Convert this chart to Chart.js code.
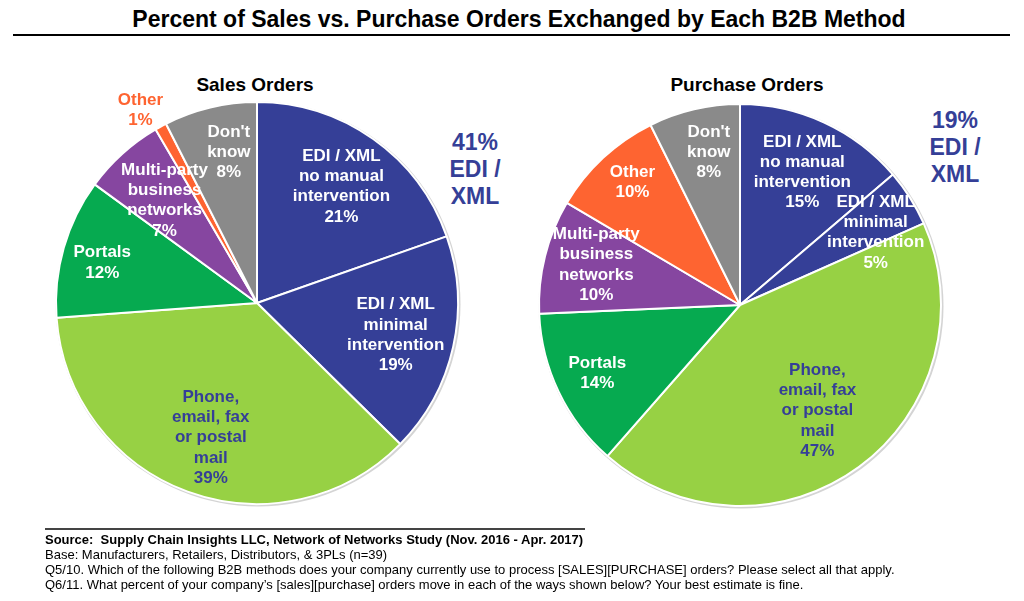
<!DOCTYPE html>
<html>
<head>
<meta charset="utf-8">
<script src="https://cdn.jsdelivr.net/npm/chart.js@4/dist/chart.umd.min.js"></script>
<style>
  body { margin: 0; background: #fff; font-family: Arial, "Liberation Sans", sans-serif; }
  #page { position: relative; width: 1024px; height: 601px; overflow: hidden; }
  .abs { position: absolute; }
  #mainTitle { left: 0; width: 1038px; top: 6px; text-align: center; font-weight: bold; font-size: 23px; color: #000; }
  #topRule { left: 13px; width: 997px; top: 34px; height: 2px; background: #000; }
  .subTitle { font-weight: bold; font-size: 19px; color: #000; text-align: center; width: 300px; }
  .note { font-weight: bold; font-size: 23px; color: #353f97; text-align: center; width: 100px; line-height: 27px; }
  .box { width: 464px; height: 464px; }
  #footRule { left: 45px; width: 540px; top: 528px; height: 2px; background: #444; }
  #foot { left: 45px; top: 532px; font-size: 13px; line-height: 15px; color: #000; }
</style>
</head>
<body>
<div id="page">
  <div id="mainTitle" class="abs">Percent of Sales vs. Purchase Orders Exchanged by Each B2B Method</div>
  <div id="topRule" class="abs"></div>

  <div class="abs subTitle" style="left:105px; top:74px;">Sales Orders</div>
  <div class="abs subTitle" style="left:597px; top:74px;">Purchase Orders</div>

  <div class="abs note" style="left:425px; top:129px;">41%<br>EDI /<br>XML</div>
  <div class="abs note" style="left:905px; top:107px;">19%<br>EDI /<br>XML</div>

  <div class="abs box" style="left:25px; top:71px;"><canvas id="salesChart"></canvas></div>
  <div class="abs box" style="left:508px; top:73px;"><canvas id="purchaseChart"></canvas></div>

  <div id="footRule" class="abs"></div>
  <div id="foot" class="abs">
    <b>Source:&nbsp; Supply Chain Insights LLC, Network of Networks Study (Nov. 2016 - Apr. 2017)</b><br>
    Base: Manufacturers, Retailers, Distributors, &amp; 3PLs (n=39)<br>
    Q5/10. Which of the following B2B methods does your company currently use to process [SALES][PURCHASE] orders? Please select all that apply.<br>
    Q6/11. What percent of your company’s [sales][purchase] orders move in each of the ways shown below? Your best estimate is fine.
  </div>
</div>

<script>
// data (clockwise from 12 o'clock)
const categories = [
    "EDI / XML no manual intervention",
    "EDI / XML minimal intervention",
    "Phone, email, fax or postal mail",
    "Portals",
    "Multi-party business networks",
    "Other",
    "Don't know"
];
const salesValues = [21, 19, 39, 12, 7, 1, 8];
const purchaseValues = [15, 5, 47, 14, 10, 10, 8];

// how each label is broken into lines inside its slice
const labelLines = [
    ["EDI / XML", "no manual", "intervention"],
    ["EDI / XML", "minimal", "intervention"],
    ["Phone,", "email, fax", "or postal", "mail"],
    ["Portals"],
    ["Multi-party", "business", "networks"],
    ["Other"],
    ["Don't", "know"]
];

const sliceColors = ["#353f97", "#353f97", "#97d144", "#06aa50", "#8646a0", "#fe6431", "#8a8a8a"];

// label placement, as fractions of the radius from the centre, and text colour
const salesLabelPos = [
    [0.42, -0.58, "#fff"], [0.69, 0.16, "#fff"], [-0.23, 0.67, "#353f97"],
    [-0.77, -0.20, "#fff"], [-0.46, -0.51, "#fff"], [-0.58, -0.96, "#fe6431"], [-0.14, -0.75, "#fff"]
];
const purchaseLabelPos = [
    [0.31, -0.66, "#fff"], [0.675, -0.36, "#fff"], [0.385, 0.525, "#353f97"],
    [-0.71, 0.34, "#fff"], [-0.715, -0.20, "#fff"], [-0.535, -0.61, "#fff"], [-0.155, -0.76, "#fff"]
];

const sliceLabels = {
    id: "sliceLabels",
    afterDatasetsDraw(chart, args, opts) {
        const ctx = chart.ctx;
        const meta = chart.getDatasetMeta(0);
        const values = chart.data.datasets[0].data;
        const arc0 = meta.data[0];
        const cx = arc0.x, cy = arc0.y, r = arc0.outerRadius;
        ctx.save();
        ctx.font = "bold 17px Arial, 'Liberation Sans', sans-serif";
        ctx.textAlign = "center";
        ctx.textBaseline = "middle";
        meta.data.forEach((arc, i) => {
            const pos = opts.positions[i];
            const lines = [...labelLines[i], values[i] + "%"];
            const lh = 20.3;
            const x = cx + pos[0] * r;
            const y0 = cy + pos[1] * r - (lines.length - 1) * lh / 2;
            ctx.fillStyle = pos[2];
            lines.forEach((t, k) => ctx.fillText(t, x, y0 + k * lh));
        });
        ctx.restore();
    }
};

const pieShadow = {
    id: "pieShadow",
    beforeDatasetsDraw(chart) {
        const arc0 = chart.getDatasetMeta(0).data[0];
        const ctx = chart.ctx;
        ctx.save();
        ctx.beginPath();
        ctx.arc(arc0.x + 1, arc0.y + 1, arc0.outerRadius + 1.5, 0, Math.PI * 2);
        ctx.fillStyle = "#d4d4d4";
        ctx.fill();
        ctx.restore();
    }
};

function makePie(id, values, positions) {
    const ctx = document.getElementById(id).getContext("2d");
    return new Chart(ctx, {
        type: "pie",
        data: {
            labels: categories,
            datasets: [{
                data: values,
                backgroundColor: sliceColors,
                borderColor: "#fff",
                borderWidth: 2
            }]
        },
        options: {
            responsive: true,
            maintainAspectRatio: false,
            animation: false,
            layout: { padding: 30 },
            plugins: {
                legend: { display: false },
                tooltip: { enabled: false },
                sliceLabels: { positions: positions }
            }
        },
        plugins: [pieShadow, sliceLabels]
    });
}

makePie("salesChart", salesValues, salesLabelPos);
makePie("purchaseChart", purchaseValues, purchaseLabelPos);
</script>
</body>
</html>
